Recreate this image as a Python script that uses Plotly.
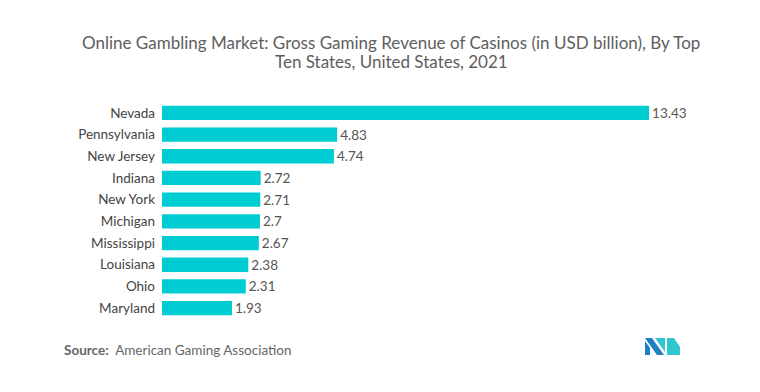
import plotly.graph_objects as go

states = ["Nevada", "Pennsylvania", "New Jersey", "Indiana", "New York",
          "Michigan", "Mississippi", "Louisiana", "Ohio", "Maryland"]
revenue = [13.43, 4.83, 4.74, 2.72, 2.71, 2.7, 2.67, 2.38, 2.31, 1.93]
labels = ["13.43", "4.83", "4.74", "2.72", "2.71", "2.7", "2.67", "2.38", "2.31", "1.93"]
title_lines = ["Online Gambling Market: Gross Gaming Revenue of Casinos (in USD billion), By Top",
               "Ten States, United States, 2021"]

W, H = 760, 392
ML, MR, MT, MB = 162, 54, 102, 73
PW, PH = W - ML - MR, H - MT - MB

def px(x):
    return (x - ML) / PW

def py(y):
    return (H - MB - y) / PH

font = "Lato"

fig = go.Figure(go.Bar(
    x=revenue, y=states, orientation="h",
    marker=dict(color="#00CDD2", line=dict(width=0)),
    text=labels, textposition="outside", cliponaxis=False,
    constraintext="none", textangle=0,
    textfont=dict(family=font, size=13.5, color="#555555"),
    hoverinfo="skip",
))

fig.update_layout(
    width=W, height=H,
    margin=dict(l=ML, r=MR, t=MT, b=MB),
    paper_bgcolor="white", plot_bgcolor="white",
    showlegend=False, bargap=0.34,
    xaxis=dict(range=[0, 15], visible=False, showgrid=False, zeroline=False),
    yaxis=dict(autorange="reversed", showgrid=False, zeroline=False,
               showline=False, ticks="", ticklabelstandoff=6,
               tickfont=dict(family=font, size=13.5, color="#444444")),
)

for line, yy in zip(title_lines, [42, 62]):
    fig.add_annotation(
        xref="paper", yref="paper", x=px(391), y=py(yy), xanchor="center", yanchor="middle",
        text=line, showarrow=False,
        font=dict(family=font, size=17, color="#5e5e5e"),
    )

fig.add_annotation(
    xref="paper", yref="paper", x=px(62), y=py(350), xanchor="left", yanchor="middle",
    text="<b>Source:</b>  American Gaming Association", showarrow=False,
    font=dict(family=font, size=13.5, color="#666666"),
)

# logo
dark = "#1E7FC2"
teal = "#2FC7CF"
def path(pts):
    return "M " + " L ".join(f"{px(a)},{py(b)}" for a, b in pts) + " Z"

fig.add_shape(type="path", xref="paper", yref="paper", line=dict(width=0), fillcolor=dark,
              path=path([(645, 338), (652, 338), (664, 355), (657, 355)]))
fig.add_shape(type="path", xref="paper", yref="paper", line=dict(width=0), fillcolor=dark,
              path=path([(645, 341), (650, 348), (650, 355), (645, 355)]))
fig.add_shape(type="path", xref="paper", yref="paper", line=dict(width=0), fillcolor=teal,
              path=path([(655, 338), (665, 338), (665, 352)]))
fig.add_shape(type="path", xref="paper", yref="paper", line=dict(width=0), fillcolor=teal,
              path=path([(667, 338), (674, 338), (680, 347), (680, 355), (667, 355)]))

fig.write_html("out.html", config={"displayModeBar": False},
               post_script="document.body.style.margin='0';document.body.style.overflow='hidden';")
